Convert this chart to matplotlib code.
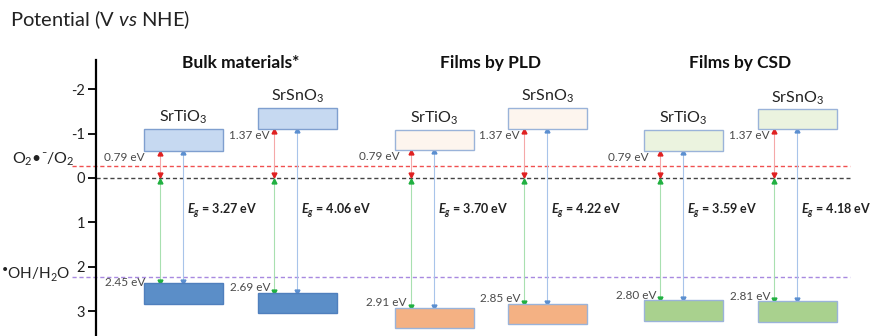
import matplotlib
matplotlib.use("Agg")
import matplotlib.pyplot as plt

plt.rcParams["font.family"] = ["Lato", "DejaVu Sans"]
plt.rcParams["mathtext.fontset"] = "custom"
plt.rcParams["mathtext.rm"] = "Lato"
plt.rcParams["mathtext.it"] = "Lato:italic"
plt.rcParams["mathtext.bf"] = "Lato:bold"
plt.rcParams["mathtext.bfit"] = "Lato:bold:italic"
plt.rcParams["axes.unicode_minus"] = False

# data (potential in V vs NHE)
groups = ["Bulk materials*", "Films by PLD", "Films by CSD"]
materials = ["SrTiO$_3$", "SrSnO$_3$"] * 3
cb_top = [-1.10, -1.58, -1.08, -1.58, -1.08, -1.55]
cb_bottom = [-0.61, -1.10, -0.63, -1.10, -0.61, -1.10]
vb_top = [2.36, 2.59, 2.93, 2.84, 2.75, 2.77]
vb_bottom = [2.84, 3.04, 3.38, 3.29, 3.22, 3.24]
cb_labels = ["0.79 eV", "1.37 eV", "0.79 eV", "1.37 eV", "0.79 eV", "1.37 eV"]
vb_labels = ["2.45 eV", "2.69 eV", "2.91 eV", "2.85 eV", "2.80 eV", "2.81 eV"]
band_gaps = [3.27, 4.06, 3.70, 4.22, 3.59, 4.18]
o2_level = -0.28
oh_level = 2.23
yticks = [-2, -1, 0, 1, 2, 3]

# layout
box_left = [144, 258, 395, 508, 644, 758]
box_w = 79
cb_fill = ["#c6d9f1", "#c6d9f1", "#fdf5ee", "#fdf5ee", "#ebf3df", "#ebf3df"]
vb_fill = ["#5b8ec8", "#5b8ec8", "#f4b183", "#f4b183", "#a9d18e", "#a9d18e"]
cb_edge = ["#7f9fcf", "#7f9fcf", "#9ab3d9", "#9ab3d9", "#9ab3d9", "#9ab3d9"]
vb_edge = ["#4f7fbd", "#4f7fbd", "#9ab3d9", "#9ab3d9", "#9ab3d9", "#9ab3d9"]
cb_off = [15, 4, 11, 4, 11, 4]
vb_off = [15, 4, 4, 4, 4, 4]
vb_dy = [0.0, -0.13, -0.12, -0.12, -0.11, -0.11]

fig = plt.figure(figsize=(8.73, 3.36), dpi=100)
ax = fig.add_axes([0, 0, 1, 1])
ax.set_xlim(0, 873)
ax.set_ylim(3.56, -4.01)
ax.patch.set_alpha(0)

for s in ["top", "right", "bottom"]:
    ax.spines[s].set_visible(False)
ax.spines["left"].set_position(("data", 96))
ax.spines["left"].set_bounds(-2.66, 3.56)
ax.spines["left"].set_linewidth(1.6)
ax.set_xticks([])
ax.set_yticks(yticks)
ax.set_yticklabels([str(t) for t in yticks])
ax.tick_params(axis="y", direction="out", length=6, width=1.3, pad=2, labelsize=10.5,
               labelcolor="#222222")

# reference levels
ax.plot([72, 850], [o2_level, o2_level], color="#f05050", lw=1, ls=(0, (3, 2)))
ax.plot([96, 850], [0, 0], color="#444444", lw=1, ls=(0, (3, 2)))
ax.plot([72, 850], [oh_level, oh_level], color="#a889e0", lw=1, ls=(0, (3, 2)))

ax.text(12, -0.41, "O$_2$•⁻/O$_2$", fontsize=11.5, ha="left", va="center",
        color="#222222")
ax.text(1, 2.18, "$^{•}$OH/H$_2$O", fontsize=11, ha="left", va="center",
        color="#222222")

fig.text(10 / 873, 1 - 20 / 336, "Potential (V $\\it{vs}$ NHE)", fontsize=14.5,
         ha="left", va="center", color="#222222")

# group titles
for g, title in enumerate(groups):
    xc = (box_left[2 * g] + box_left[2 * g + 1] + box_w) / 2
    ax.text(xc, -2.59, title, fontsize=12.5, fontweight="bold", ha="center", va="center",
            color="#111111")


def arrow(x, y0, y1, line_c, head_c):
    ax.plot([x, x], [y0, y1], color=line_c, lw=0.8, zorder=2)
    ax.plot(x, y0, marker="^", ms=3.5, color=head_c, mec=head_c, zorder=3)
    ax.plot(x, y1, marker="v", ms=3.5, color=head_c, mec=head_c, zorder=3)


for i in range(6):
    x0 = box_left[i]
    ax.bar(x0, cb_bottom[i] - cb_top[i], bottom=cb_top[i], width=box_w, align="edge",
           color=cb_fill[i], edgecolor=cb_edge[i], lw=1, zorder=4)
    ax.bar(x0, vb_bottom[i] - vb_top[i], bottom=vb_top[i], width=box_w, align="edge",
           color=vb_fill[i], edgecolor=vb_edge[i], lw=1, zorder=4)
    ax.text(x0 + box_w / 2, cb_top[i] - 0.06, materials[i], fontsize=11.5,
            ha="center", va="bottom", color="#222222")

    xr = x0 + 16
    xb = x0 + 39
    arrow(xr, cb_bottom[i] + 0.05, -0.06, "#f5a8a8", "#e02020")
    arrow(xr, 0.06, vb_top[i] - 0.02, "#a8e0b0", "#20b040")
    arrow(xb, cb_bottom[i] + 0.02, vb_top[i] - 0.02, "#a8c4ea", "#5b8fd0")

    ax.text(xr - cb_off[i], cb_bottom[i] + 0.15, cb_labels[i], fontsize=8.5,
            ha="right", va="center", color="#4a4a4a")
    ax.text(xr - vb_off[i], vb_top[i] + vb_dy[i], vb_labels[i], fontsize=8.5,
            ha="right", va="center", color="#4a4a4a")
    ax.text(xb + 4, 0.74, "$\\mathbfit{E_g}$ = %.2f eV" % band_gaps[i], fontsize=9,
            fontweight="bold", ha="left", va="center", color="#222222")

fig.savefig("out.png", dpi=100)
